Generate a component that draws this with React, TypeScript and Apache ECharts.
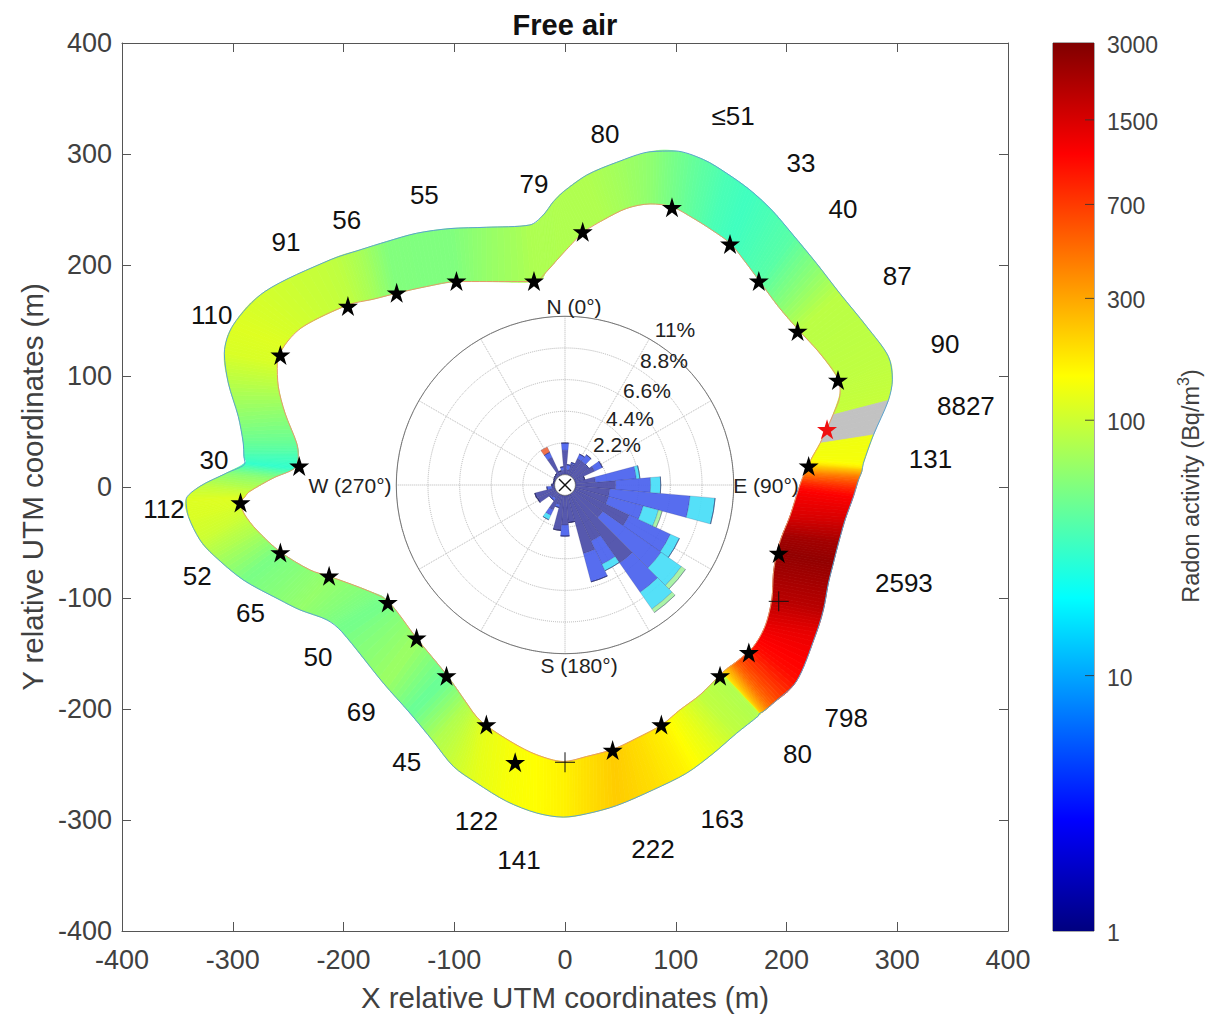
import React, { useEffect, useRef } from "react";
import * as echarts from "echarts";

const FONT = "'Liberation Sans', Arial, sans-serif";

// ---- Ribbon sections, clockwise (metres): inner edge, outer edge, radon activity
const innerX = [16.6,34.6,55.7,76.8,96.3,116,132.5,149,162.6,176,192.6,210.7,230,247,248.4,242,242,230.3,230.3,221.9,218.9,215,210.7,203,195.7,191.2,188.2,186.7,180.6,170,155,147.5,141.4,140,121.9,103.8,87.3,64.7,43.6,19.5,-1.5,-25.6,-46.7,-72.2,-81.3,-88.8,-106.9,-134,-159.5,-176,-212.2,-230.3,-257.4,-278.4,-289,-292.9,-289,-284.5,-263.4,-243.8,-240.8,-242.3,-252.8,-258.9,-259.8,-252.8,-236.3,-195.7,-173.1,-152,-125,-97.8,-70.7,-27,-16.6,-4.5];
const innerY = [230,240.6,251,255,252.6,242,231.6,219.6,203,185,162.6,141.6,120.6,96.6,84.6,65,65,39.4,39.4,24.4,16.9,9.4,-2.6,-26.6,-44.6,-59.6,-77.6,-101.6,-125.6,-144,-157.3,-162.7,-167.8,-169.3,-187.3,-200.8,-214.3,-226.3,-236.2,-242.8,-247.3,-241.2,-230.7,-214.2,-205.2,-194.7,-169.2,-136.2,-103.2,-94.2,-80.7,-74.7,-58.2,-38.7,-25.2,-14.7,-8.7,-3.9,8.1,17.1,27.6,39.6,66.6,90.6,111.6,128.1,144.6,164.1,169.2,174.6,180.6,185.1,185.1,185.1,194.1,207.6];
const outerX = [-1.5,19.6,46.7,76.8,99.3,125,146,167,186.6,206,227,248,272.4,292,295.6,292,292,278.5,278.5,269.4,268,265,260.4,252.9,246.9,242.3,237.8,233.3,225.8,209,188,179,175.2,174.6,155,133.9,109.8,79.7,46.6,19.5,-1.5,-25.6,-52.7,-79.8,-100.8,-118.9,-140,-164,-201.7,-215,-239.3,-257.4,-290.5,-317.6,-329.6,-340,-342.2,-329.6,-305.5,-289,-289.9,-290.5,-295,-304,-307.6,-299.5,-271,-212.2,-185.1,-161,-134,-103.8,-70.7,-31.6,-19.6,-10.5];
const outerY = [266,281,292.5,302,302.7,295,282.6,267.6,249.6,227,201.6,174.6,144.6,117.6,96.6,78,78,46.9,46.9,21.4,13.9,6.4,-8.6,-29.6,-50.6,-68.6,-86.6,-110.6,-134.6,-175,-194.8,-202.3,-204.4,-206.2,-221.8,-240,-257.8,-272.8,-287,-294.4,-297.4,-293.7,-283.2,-266.7,-251.7,-229.2,-203.7,-176.7,-130.2,-119.7,-110.7,-101.7,-83.7,-61.2,-47.7,-26.7,-11.7,0.6,12.6,21.6,27.6,39.6,63.6,93.6,120.6,146.1,176.1,204.6,213.6,221.1,228.6,232.8,234,236.1,245.1,257.1];
const sectionValues = [80,80,72,62,51,42,36,33,36,40,58,87,88,90,92,95,8827,8827,131,140,260,500,1100,1500,2300,2593,2300,1900,1300,1000,550,300,170,80,90,125,163,195,222,190,165,150,141,122,100,80,45,69,50,55,65,60,52,80,100,112,115,95,60,30,35,45,62,85,110,115,105,91,75,56,55,55,65,79,79,80];

// ---- Stations
const starsX = [96.6,149,175,210,246.5,220,193,166,140,87,43,-45,-71,-107,-134,-160,-213,-257,-293,-240,-257,-196,-152,-98,-28,16];
const starsY = [252,219,185.6,140.5,96.4,19,-59.5,-149,-170,-214,-237,-248,-214,-170,-136,-104,-80,-59,-14,19,119,163,175,185.6,185.6,230];
const redStar = [[236.6, 52]];
const crossPoints = [[193, -103], [0, -248]];

// ---- Station annotations
const noteText = ["≤51","33","40","87","90","8827","131","2593","798","80","163","222","141","122","45","69","50","65","52","112","30","110","91","56","55","79","80"];
const noteX = [151.7,213,251,300,343,362,330,306,254,210,142,79.5,-41.5,-80,-143,-184,-223,-284,-332,-362,-317,-319,-252,-197,-127,-28,36];
const noteY = [334,292,250.5,190,129,73,25,-86.5,-208,-240.5,-299,-326,-336,-301,-248,-203,-153,-113.5,-80,-20,24,155,221,240.5,263,273,318];

// ---- Colour bar
const colorbarTicks = [1, 10, 100, 300, 700, 1500, 3000];
const colorbarMarks = [10, 100, 300, 700, 1500];

// ---- Wind rose: percentage in each 10 degree sector, by speed class
const roseDirs = Array.from({ length: 36 }, (_, i) => String(i * 10));
const roseNavy = [1.7,.35,.8,1.3,1.3,1.25,1.55,.7,1.4,2.8,2.4,2.4,4.2,2.48,5.9,3.57,4.2,1.9,2.06,2.45,.7,1.2,.4,.5,1.4,1.45,.2,.2,.1,.1,.15,.2,.25,1.4,.3,.3];
const roseBlue = [.5,.35,.1,.35,.55,.05,.6,0,2.85,2.43,5.6,2.5,3.16,4.95,2.48,1.78,2.05,0,.77,0,.2,.4,.2,.1,0,0,.35,0,0,0,0,0,0,.4,0,.25];
const roseCyan = [0,0,0,0,0,0,0,0,.25,.7,1.75,1.1,.69,1.72,1.42,.5,0,0,0,0,0,.35,0,0,0,0,0,0,0,0,0,0,0,0,0,0];
const roseGreen = [0,0,0,0,0,0,0,0,0,0,0,.27,0,.35,.3,0,0,0,0,0,0,0,0,0,0,0,0,0,0,0,0,0,0,0,0,0];
const roseOrange = [0,0,0,0,0,0,0,0,0,0,0,0,0,0,0,0,0,0,0,0,0,0,0,0,0,0,0,0,0,0,0,0,0,.4,0,0];
const compassText = ["N (0°)", "E (90°)", "S (180°)", "W (270°)"];
const ringText = ["2.2%", "4.4%", "6.6%", "8.8%", "11%"];

const JET: [number, number[]][] = [
  [0, [0, 0, 128]], [0.125, [0, 0, 255]], [0.375, [0, 255, 255]],
  [0.625, [255, 255, 0]], [0.875, [255, 0, 0]], [1, [128, 0, 0]],
];
const LOGMAX = Math.log10(3000);
function jet(logV: number): string {
  const t = Math.max(0, Math.min(1, logV / LOGMAX));
  for (let i = 1; i < JET.length; i++) {
    if (t <= JET[i][0]) {
      const f = (t - JET[i - 1][0]) / (JET[i][0] - JET[i - 1][0]);
      const c = JET[i - 1][1].map((a, k) => Math.round(a + (JET[i][1][k] - a) * f));
      return `rgb(${c[0]},${c[1]},${c[2]})`;
    }
  }
  return "rgb(128,0,0)";
}
const at = (a: number[], i: number) => a[(i + a.length) % a.length];
function spline(a: number[], i: number, t: number) {
  const p0 = at(a, i - 1), p1 = at(a, i), p2 = at(a, i + 1), p3 = at(a, i + 2);
  return 0.5 * (2 * p1 + (p2 - p0) * t + (2 * p0 - 5 * p1 + 4 * p2 - p3) * t * t + (3 * p1 - p0 - 3 * p2 + p3) * t * t * t);
}
const STEPS = 8;
const renderRibbon = (_p: any, api: any) => {
  const i = api.value(2);
  const v0 = at(sectionValues, i), v1 = at(sectionValues, i + 1);
  const over0 = v0 > 3000, over1 = v1 > 3000;
  if (over0 !== over1) return { type: "group", children: [] };
  const children: any[] = [];
  for (let s = 0; s < STEPS; s++) {
    const a = s / STEPS, b = (s + 1) / STEPS;
    const pts = [
      api.coord([spline(innerX, i, a), spline(innerY, i, a)]),
      api.coord([spline(innerX, i, b), spline(innerY, i, b)]),
      api.coord([spline(outerX, i, b), spline(outerY, i, b)]),
      api.coord([spline(outerX, i, a), spline(outerY, i, a)]),
    ];
    const m = (a + b) / 2;
    const col = over0 ? "#c2c2c2" : jet(Math.log10(v0) * (1 - m) + Math.log10(v1) * m);
    children.push({ type: "polygon", shape: { points: pts }, style: { fill: col, stroke: col, lineWidth: 0.8 } });
  }
  return { type: "group", children };
};
const renderBar = (_p: any, api: any) => {
  const a = api.coord([0, 3000]), b = api.coord([1, 1]);
  return {
    type: "rect",
    shape: { x: a[0], y: a[1], width: b[0] - a[0], height: b[1] - a[1] },
    style: {
      fill: new echarts.graphic.LinearGradient(0, 1, 0, 0, JET.map(([offset, c]) => ({ offset, color: `rgb(${c[0]},${c[1]},${c[2]})` }))),
    },
  };
};
const renderBarMark = (_p: any, api: any) => {
  const p = api.coord([1, api.value(1)]);
  return {
    type: "line",
    shape: { x1: p[0] - 9, y1: p[1], x2: p[0], y2: p[1] },
    style: { stroke: "rgba(50,50,50,0.85)", lineWidth: 1 },
  };
};
const renderBarLabel = (_p: any, api: any) => {
  const v = api.value(1);
  const p = api.coord([1, v]);
  return {
    type: "text", x: p[0] + 13, y: p[1] + 2,
    style: { text: String(v), fill: INK, font: `23px ${FONT}`, align: "left", verticalAlign: "middle" },
  };
};
const closed = (xs: number[], ys: number[]) => [...xs, xs[0]].map((x, i) => [x, ys[i % ys.length]]);
const STAR = "path://M0 -10L2.24 -3.09L9.51 -3.09L3.63 1.18L5.88 8.09L0 3.82L-5.88 8.09L-3.63 1.18L-9.51 -3.09L-2.24 -3.09Z";
const CROSS = "path://M-10 0H10M0 -10V10";
const INK = "#404040";
const roseBar = (name: string, data: number[], color: string) => ({
  name, type: "bar", coordinateSystem: "polar", polarIndex: 1, stack: "rose", data, barWidth: "100%", z: 4,
  itemStyle: { color, opacity: 0.93, borderColor: "rgba(30,30,90,0.4)", borderWidth: 0.5 }, silent: true,
});
const mainAxis = (extra: any) => ({
  type: "value", min: -400, max: 400, interval: 100, gridIndex: 0,
  axisLine: { show: true, onZero: false, lineStyle: { color: "#555", width: 1 } },
  axisTick: { show: true, inside: true, length: 9, lineStyle: { color: "#555", width: 1 } },
  splitLine: { show: false }, ...extra,
});
const labelStyle = { color: INK, fontSize: 27, fontFamily: FONT };
const roseLabel = (text: string, x: number, y: number) => ({
  type: "text", x, y, z: 20,
  style: { text, fill: "#222", font: `21px ${FONT}`, align: "center", verticalAlign: "middle" },
});

function buildOption() {
  return {
    animation: false,
    backgroundColor: "#fff",
    title: {
      text: "Free air", left: 560, top: 5, textAlign: "center",
      textStyle: { color: "#111", fontSize: 29, fontWeight: "bold", fontFamily: FONT },
    },
    grid: [
      { left: 122, top: 43, width: 886, height: 888, show: false, outerBoundsMode: "none" },
      { left: 1053, top: 43, width: 41, height: 888, show: true, borderColor: "#555", borderWidth: 1, backgroundColor: "transparent", outerBoundsMode: "none" },
    ],
    xAxis: [
      mainAxis({
        position: "bottom", name: "X relative UTM coordinates (m)", nameLocation: "middle", nameGap: 51,
        nameTextStyle: { color: INK, fontSize: 29.5, fontFamily: FONT },
        axisLabel: { ...labelStyle, margin: 15 },
      }),
      mainAxis({ position: "top", axisLabel: { show: false } }),
      { gridIndex: 1, type: "value", min: 0, max: 1, show: false },
    ],
    yAxis: [
      mainAxis({
        position: "left", name: "Y relative UTM coordinates (m)", nameLocation: "middle", nameGap: 74,
        nameTextStyle: { color: INK, fontSize: 29.5, fontFamily: FONT },
        axisLabel: { ...labelStyle, margin: 10, padding: [3, 0, 0, 0] },
      }),
      mainAxis({ position: "right", axisLabel: { show: false } }),
      {
        gridIndex: 1, type: "log", logBase: 10, min: 1, max: 3000, position: "right",
        axisLine: { show: false }, axisTick: { show: false }, axisLabel: { show: false },
        minorTick: { show: false }, splitLine: { show: false },
      },
    ],
    polar: [
      { center: [565, 485], radius: [10.4, 168.7] },
      { center: [565, 485], radius: [10.4, 168.7] },
    ],
    angleAxis: [
      {
        polarIndex: 0, type: "value", min: 0, max: 360, interval: 30, startAngle: 90, clockwise: true,
        axisLine: { show: true, lineStyle: { color: "#777", width: 1 } },
        axisTick: { show: false }, axisLabel: { show: false },
        splitLine: { show: true, lineStyle: { color: "#b5b5b5", type: "dotted", width: 1 } },
      },
      {
        polarIndex: 1, type: "category", data: roseDirs, startAngle: 95, clockwise: true,
        axisLine: { show: false }, axisTick: { show: false }, axisLabel: { show: false }, splitLine: { show: false },
      },
    ],
    radiusAxis: [
      {
        polarIndex: 0, type: "value", min: 0, max: 11, interval: 2.2,
        axisLine: { show: false }, axisTick: { show: false }, axisLabel: { show: false },
        splitLine: { show: true, lineStyle: { color: "#b5b5b5", type: "dotted", width: 1 } },
      },
      {
        polarIndex: 1, type: "value", min: 0, max: 11,
        axisLine: { show: false }, axisTick: { show: false }, axisLabel: { show: false }, splitLine: { show: false },
      },
    ],
    graphic: [
      { type: "circle", shape: { cx: 565, cy: 485, r: 10.4 }, z: 18, style: { fill: "#fff", stroke: "#555", lineWidth: 0.6 } },
      { type: "line", shape: { x1: 559, y1: 479, x2: 571, y2: 491 }, z: 19, style: { stroke: "#111", lineWidth: 1.4 } },
      { type: "line", shape: { x1: 571, y1: 479, x2: 559, y2: 491 }, z: 19, style: { stroke: "#111", lineWidth: 1.4 } },
      roseLabel(compassText[0], 574, 306),
      roseLabel(compassText[1], 766, 485),
      roseLabel(compassText[2], 579, 665),
      roseLabel(compassText[3], 350, 485),
      roseLabel(ringText[0], 617, 444),
      roseLabel(ringText[1], 630, 418),
      roseLabel(ringText[2], 647, 390),
      roseLabel(ringText[3], 664, 360),
      roseLabel(ringText[4], 675, 329),
      {
        type: "text", x: 1191, y: 486, rotation: Math.PI / 2, z: 20,
        style: {
          text: "{a|Radon activity (Bq/m}{s|3}{a|)}", align: "center", verticalAlign: "middle",
          rich: {
            a: { fontSize: 23.5, fontFamily: FONT, fill: INK, lineHeight: 32 },
            s: { fontSize: 16, fontFamily: FONT, fill: INK, verticalAlign: "top" },
          },
        },
      },
    ],
    series: [
      {
        name: "Radon ribbon", type: "custom", xAxisIndex: 0, yAxisIndex: 0, clip: false, z: 1, silent: true,
        renderItem: renderRibbon,
        data: innerX.map((x, i) => [x, innerY[i], i]),
      },
      {
        name: "Inner edge", type: "line", xAxisIndex: 0, yAxisIndex: 0, data: closed(innerX, innerY), smooth: 0.3, showSymbol: false, symbol: "none", z: 2, silent: true,
        lineStyle: { color: "#e59a6a", width: 1 },
      },
      {
        name: "Outer edge", type: "line", xAxisIndex: 0, yAxisIndex: 0, data: closed(outerX, outerY), smooth: 0.3, showSymbol: false, symbol: "none", z: 2, silent: true,
        lineStyle: { color: "#5ba3cf", width: 1 },
      },
      {
        name: "Stations", type: "scatter", xAxisIndex: 0, yAxisIndex: 0, symbol: STAR, symbolSize: 20, z: 6, silent: true,
        itemStyle: { color: "#000", opacity: 1 }, data: starsX.map((x, i) => [x, starsY[i]]),
      },
      {
        name: "Station over range", type: "scatter", xAxisIndex: 0, yAxisIndex: 0, symbol: STAR, symbolSize: 20, z: 6, silent: true,
        itemStyle: { color: "#f01010", opacity: 1 }, data: redStar,
      },
      {
        name: "No value", type: "scatter", xAxisIndex: 0, yAxisIndex: 0, symbol: CROSS, symbolSize: 20, z: 6, silent: true,
        itemStyle: { color: "transparent", borderColor: "#111", borderWidth: 1, opacity: 1 }, data: crossPoints,
      },
      {
        name: "Notes", type: "scatter", xAxisIndex: 0, yAxisIndex: 0, symbolSize: 1, z: 7, silent: true,
        itemStyle: { color: "transparent", opacity: 1 },
        label: {
          show: true, position: "inside", color: "#111", opacity: 1, fontSize: 26, fontFamily: FONT, offset: [0, 1],
          formatter: (p: any) => noteText[p.dataIndex],
        },
        labelLayout: { hideOverlap: false },
        data: noteX.map((x, i) => [x, noteY[i]]),
      },
      {
        name: "Colour bar", type: "custom", xAxisIndex: 2, yAxisIndex: 2, z: 1, silent: true, clip: false,
        renderItem: renderBar, data: [[0, 1]],
      },
      {
        name: "Colour bar ticks", type: "custom", xAxisIndex: 2, yAxisIndex: 2, z: 3, silent: true, clip: false,
        renderItem: renderBarMark, data: colorbarMarks.map((v) => [1, v]),
      },
      {
        name: "Colour bar labels", type: "custom", xAxisIndex: 2, yAxisIndex: 2, z: 3, silent: true, clip: false,
        renderItem: renderBarLabel, data: colorbarTicks.map((v) => [1, v]),
      },
      roseBar("Class 1", roseNavy, "#4a4ca8"),
      roseBar("Class 2", roseBlue, "#4a62ee"),
      roseBar("Class 3", roseCyan, "#48def8"),
      roseBar("Class 4", roseGreen, "#a5f2a0"),
      roseBar("Class 5", roseOrange, "#f0683f"),
      { name: "Rose grid", type: "scatter", coordinateSystem: "polar", polarIndex: 0, symbolSize: 0, data: [], silent: true },
    ],
  };
}

export default function App() {
  const ref = useRef<HTMLDivElement>(null);
  useEffect(() => {
    document.body.style.margin = "0";
    const chart = echarts.init(ref.current!, undefined, { renderer: "svg" });
    chart.setOption(buildOption() as any);
    return () => chart.dispose();
  }, []);
  return <div ref={ref} style={{ width: 1207, height: 1014 }} />;
}
